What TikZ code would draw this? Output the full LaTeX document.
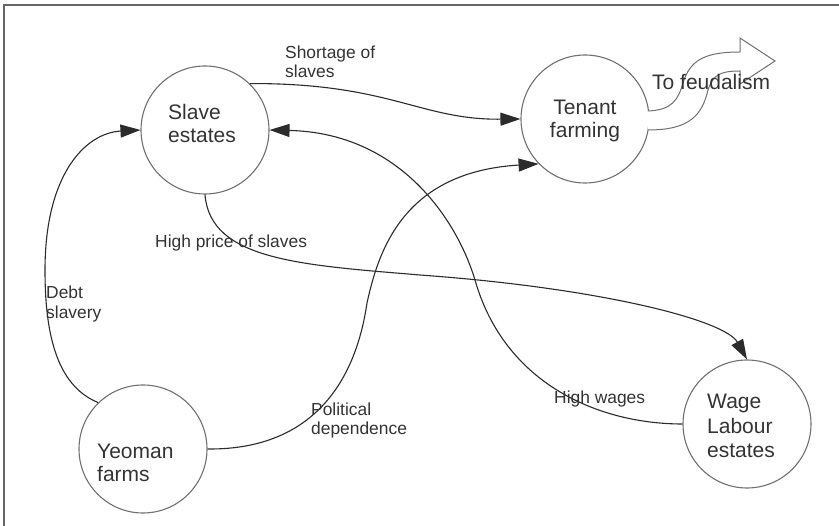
\documentclass[tikz,border=0pt]{standalone}
\usepackage{fontspec}
\setmainfont{Liberation Sans}
\usetikzlibrary{arrows.meta}
\definecolor{txt}{HTML}{333333}
\definecolor{ln}{HTML}{2B2B2B}
\definecolor{circ}{HTML}{707070}
\definecolor{frm}{HTML}{666666}
\begin{document}
\begin{tikzpicture}[x=1pt,y=-1pt,
  place/.style={circle,draw=circ,line width=1.1pt,minimum size=128pt,inner sep=0pt},
  ntext/.style={font=\fontsize{21}{23.5}\selectfont,text=txt,inner sep=0pt,align=left,anchor=base west},
  etext/.style={font=\fontsize{17.4}{19}\selectfont,text=txt,inner sep=0pt,align=left,anchor=base west},
  conn/.style={draw=ln,line width=1.1pt,-{Triangle[length=20pt,width=13pt]}},
  bigarrow/.style={draw=circ,line width=1pt,fill=white}]
\useasboundingbox (0,0) rectangle (839,526);
\draw[frm,line width=2pt] (4,530) -- (4,5) -- (845,5);

% places
\node[place] (slave) at (205,130) {};
\node[place] (tenant) at (585,119) {};
\node[place] (yeoman) at (143,449) {};
\node[place] (wage) at (747,424) {};

% block arrow to feudalism
\draw[bigarrow] (648,111) .. controls (672,110) and (678,100) .. (683,83)
  .. controls (690,60) and (705,52) .. (740,52) -- (740,38) -- (775,61) -- (740,84) -- (740,71)
  .. controls (720,71) and (713,75) .. (708,90) .. controls (702,115) and (690,130) .. (648,130);

% connectors
\draw[conn] (slave.46) .. controls (390,83) and (420,120) .. (tenant.west);
\draw[conn] (wage.west) .. controls (600,424) and (505,385) .. (475,280)
  .. controls (457,220) and (400,133) .. (slave.east);
\draw[conn] (slave.south) .. controls (210,260) and (300,265) .. (420,275)
  .. controls (600,288) and (725,320) .. (wage.north);
\draw[conn] (yeoman.134) .. controls (55,385) and (45,330) .. (45,270)
  .. controls (45,175) and (85,133) .. (slave.west);
\draw[conn] (yeoman.east) .. controls (310,450) and (355,385) .. (367,303)
  .. controls (379,248) and (405,172) .. (tenant.224);

% node texts (anchor = baseline of last line)
\node[ntext] (slaveT) at (168,143) {Slave\\estates};
\node[ntext,align=center,anchor=base] (tenantT) at (585,138) {Tenant\\farming};
\node[ntext] (yeomanT) at (97,482) {Yeoman\\farms};
\node[ntext,font=\fontsize{21}{24.5}\selectfont] (wageT) at (707,458) {Wage\\Labour\\estates};
\node[ntext] (feudT) at (652,90) {To feudalism};

% edge labels
\node[etext] (l1) at (285,78) {Shortage of\\slaves};
\node[etext] (l2) at (155,248) {High price of slaves};
\node[etext,font=\fontsize{17.4}{20}\selectfont] (l3) at (46,319) {Debt\\slavery};
\node[etext] (l4) at (311,435) {Political\\dependence};
\node[etext] (l5) at (554,404) {High wages};
\end{tikzpicture}
\end{document}
